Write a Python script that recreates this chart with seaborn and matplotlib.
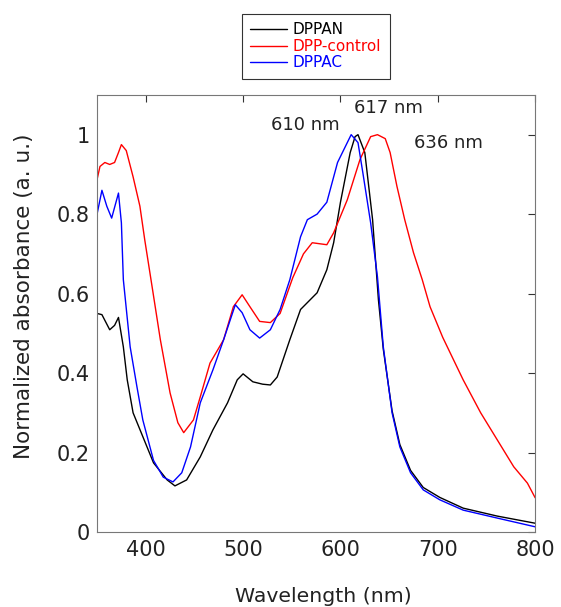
import pandas as pd
import matplotlib.pyplot as plt
import seaborn as sns

# wavelength (nm) / normalized absorbance
wl_dppan = [350, 355, 363, 368, 372, 377, 381, 387, 397, 408, 422, 430, 442, 456, 469, 484, 494,
            500, 510, 520, 528, 535, 548, 559, 576, 586, 593, 600, 610, 615, 618, 625, 633, 639,
            644, 653, 661, 672, 685, 702, 726, 761, 800]
abs_dppan = [0.55, 0.547, 0.509, 0.52, 0.54, 0.466, 0.383, 0.30, 0.24, 0.174, 0.131, 0.116, 0.131,
             0.189, 0.257, 0.325, 0.383, 0.398, 0.378, 0.372, 0.37, 0.39, 0.484, 0.56, 0.602,
             0.66, 0.728, 0.83, 0.955, 0.995, 1.0, 0.955, 0.786, 0.584, 0.46, 0.305, 0.22,
             0.155, 0.112, 0.087, 0.06, 0.04, 0.022]

wl_control = [350, 353, 358, 363, 368, 372, 375, 380, 387, 394, 399, 407, 415, 425, 433, 439, 449,
              456, 466, 480, 490, 499, 507, 517, 528, 538, 551, 562, 571, 586, 593, 607, 620, 631,
              638, 646, 651, 658, 666, 675, 684, 692, 705, 726, 744, 761, 778, 792, 800]
abs_control = [0.887, 0.92, 0.93, 0.925, 0.93, 0.955, 0.975, 0.96, 0.894, 0.82, 0.735, 0.61, 0.484,
               0.35, 0.275, 0.25, 0.282, 0.34, 0.425, 0.484, 0.567, 0.597, 0.567, 0.53, 0.527, 0.55,
               0.64, 0.70, 0.728, 0.723, 0.753, 0.836, 0.937, 0.995, 1.0, 0.99, 0.955, 0.87, 0.786,
               0.703, 0.635, 0.567, 0.49, 0.383, 0.30, 0.232, 0.164, 0.123, 0.086]

wl_dppac = [350, 355, 360, 365, 372, 375, 377, 384, 391, 397, 408, 418, 428, 437, 446, 456, 469,
            480, 492, 499, 507, 517, 528, 538, 548, 559, 566, 576, 586, 597, 611, 618, 623, 631,
            638, 644, 653, 661, 672, 685, 702, 726, 761, 800]
abs_dppac = [0.80, 0.86, 0.82, 0.79, 0.853, 0.778, 0.635, 0.466, 0.365, 0.282, 0.18, 0.138, 0.126,
             0.149, 0.214, 0.325, 0.408, 0.484, 0.572, 0.552, 0.509, 0.488, 0.509, 0.56, 0.635,
             0.743, 0.786, 0.80, 0.83, 0.93, 1.0, 0.98, 0.904, 0.778, 0.642, 0.466,
             0.30, 0.214, 0.149, 0.106, 0.081, 0.055, 0.035, 0.013]

series = [("DPPAN", wl_dppan, abs_dppan, "black"),
          ("DPP-control", wl_control, abs_control, "red"),
          ("DPPAC", wl_dppac, abs_dppac, "blue")]

sns.set_style("white")
plt.rcParams['font.family'] = ['DejaVu Sans']

fig = plt.figure(figsize=(5.61, 6.07), dpi=100)
ax = fig.add_axes([0.173, 0.1236, 0.781, 0.72])

for name, wl, ab, col in series:
    df = pd.DataFrame({"Wavelength": wl, "Absorbance": ab})
    sns.lineplot(data=df, x="Wavelength", y="Absorbance", color=col, lw=1.0, ax=ax, label=name)

ax.set_xlim(350, 800)
ax.set_ylim(0, 1.1)
ax.set_xticks([400, 500, 600, 700, 800])
ax.set_yticks([0, 0.2, 0.4, 0.6, 0.8, 1.0])
ax.set_yticklabels(["0", "0.2", "0.4", "0.6", "0.8", "1"])
ax.tick_params(direction="in", top=True, right=True, length=5, width=0.8,
               labelsize=15, colors="#333333", labelcolor="#222222")
ax.tick_params(axis="x", pad=6)
ax.tick_params(axis="y", pad=5)
for s in ax.spines.values():
    s.set_color("#777777")
    s.set_linewidth(0.8)
ax.set_xlabel("Wavelength (nm)", fontsize=14.7, color="#222222")
ax.set_ylabel("Normalized absorbance (a. u.)", fontsize=15.5, color="#222222")
ax.xaxis.set_label_coords(0.516, -0.126)
ax.yaxis.set_label_coords(-0.145, 0.54)

ax.text(564, 1.025, "610 nm", fontsize=13, ha="center", va="center", color="#222222")
ax.text(649, 1.068, "617 nm", fontsize=13, ha="center", va="center", color="#222222")
ax.text(711, 0.98, "636 nm", fontsize=13, ha="center", va="center", color="#222222")

handles, labels = ax.get_legend_handles_labels()
leg = fig.legend(handles, labels, loc="upper center", bbox_to_anchor=(0.563, 0.977),
                 frameon=True, fancybox=False, edgecolor="black", fontsize=11,
                 handlelength=2.4, handletextpad=0.4, labelspacing=0.1, borderpad=0.55,
                 borderaxespad=0)
leg.get_frame().set_linewidth(0.8)
for txt, (_, _, _, col) in zip(leg.get_texts(), series):
    txt.set_color(col)
ax.get_legend().remove()

fig.savefig("out.png", dpi=100)
